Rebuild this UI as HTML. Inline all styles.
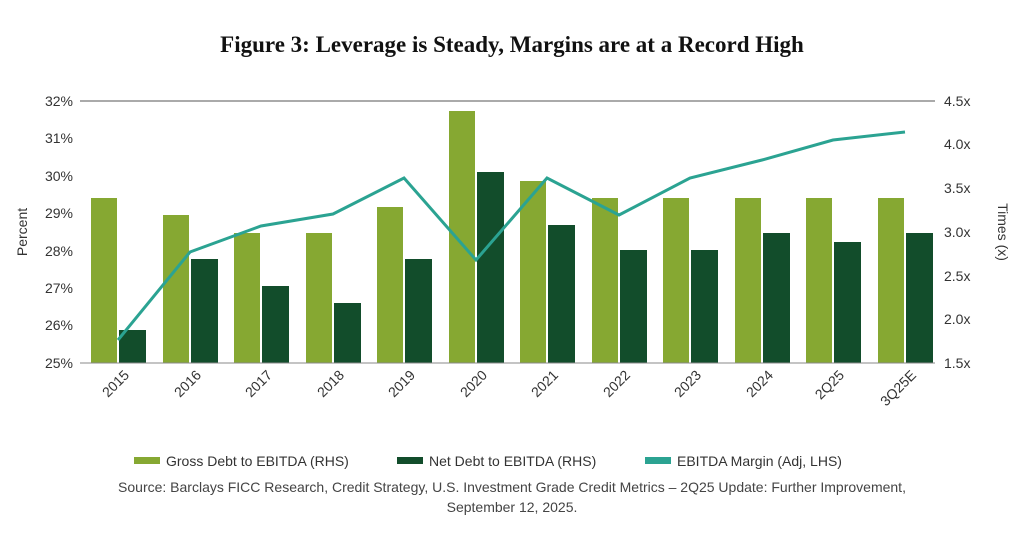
<!DOCTYPE html>
<html><head><meta charset="utf-8"><style>
body{margin:0;background:#fff;width:1024px;height:540px;overflow:hidden}
</style></head><body>
<svg width="1024" height="540" xmlns="http://www.w3.org/2000/svg" font-family="Liberation Sans, sans-serif">
<text x="512" y="52" text-anchor="middle" font-family="Liberation Serif, serif" font-weight="bold" font-size="23" fill="#111">Figure 3: Leverage is Steady, Margins are at a Record High</text>
<line x1="80" y1="101" x2="935" y2="101" stroke="#555" stroke-width="1"/>
<g font-size="14" fill="#333" text-anchor="end">
<text x="73" y="106">32%</text><text x="73" y="143">31%</text><text x="73" y="181">30%</text><text x="73" y="218">29%</text><text x="73" y="256">28%</text><text x="73" y="293">27%</text><text x="73" y="330">26%</text><text x="73" y="368">25%</text>
</g>
<g font-size="14" fill="#333">
<text x="944" y="106">4.5x</text><text x="944" y="149">4.0x</text><text x="944" y="193">3.5x</text><text x="944" y="237">3.0x</text><text x="944" y="281">2.5x</text><text x="944" y="324">2.0x</text><text x="944" y="368">1.5x</text>
</g>
<text transform="translate(27,232) rotate(-90)" text-anchor="middle" font-size="14" fill="#333">Percent</text>
<text transform="translate(998,232) rotate(90)" text-anchor="middle" font-size="14" fill="#333">Times (x)</text>
<g fill="#86a832">
<rect x="91" y="198" width="26" height="165"/><rect x="163" y="215" width="26" height="148"/><rect x="234" y="233" width="26" height="130"/><rect x="306" y="233" width="26" height="130"/><rect x="377" y="207" width="26" height="156"/><rect x="449" y="111" width="26" height="252"/><rect x="520" y="181" width="26" height="182"/><rect x="592" y="198" width="26" height="165"/><rect x="663" y="198" width="26" height="165"/><rect x="735" y="198" width="26" height="165"/><rect x="806" y="198" width="26" height="165"/><rect x="878" y="198" width="26" height="165"/>
</g>
<g fill="#124d2b">
<rect x="119" y="330" width="27" height="33"/><rect x="191" y="259" width="27" height="104"/><rect x="262" y="286" width="27" height="77"/><rect x="334" y="303" width="27" height="60"/><rect x="405" y="259" width="27" height="104"/><rect x="477" y="172" width="27" height="191"/><rect x="548" y="225" width="27" height="138"/><rect x="620" y="250" width="27" height="113"/><rect x="691" y="250" width="27" height="113"/><rect x="763" y="233" width="27" height="130"/><rect x="834" y="242" width="27" height="121"/><rect x="906" y="233" width="27" height="130"/>
</g>
<line x1="80" y1="363" x2="935" y2="363" stroke="#888" stroke-width="1"/>
<polyline fill="none" stroke="#2ba392" stroke-width="3" points="118,340 190,252 261,226 333,214 404,178 476,260 547,178 619,215 690,178 762,160 833,140 905,132"/>
<g font-size="14" fill="#333" text-anchor="end">
<text transform="translate(130,376) rotate(-45)">2015</text><text transform="translate(202,376) rotate(-45)">2016</text><text transform="translate(273,376) rotate(-45)">2017</text><text transform="translate(345,376) rotate(-45)">2018</text><text transform="translate(416,376) rotate(-45)">2019</text><text transform="translate(488,376) rotate(-45)">2020</text><text transform="translate(559,376) rotate(-45)">2021</text><text transform="translate(631,376) rotate(-45)">2022</text><text transform="translate(702,376) rotate(-45)">2023</text><text transform="translate(774,376) rotate(-45)">2024</text><text transform="translate(845,376) rotate(-45)">2Q25</text><text transform="translate(917,376) rotate(-45)">3Q25E</text>
</g>
<g font-size="14" fill="#333">
<rect x="134" y="457" width="26" height="7" fill="#86a832"/><text x="166" y="466">Gross Debt to EBITDA (RHS)</text>
<rect x="397" y="457" width="26" height="7" fill="#124d2b"/><text x="429" y="466">Net Debt to EBITDA (RHS)</text>
<rect x="645" y="457" width="26" height="7" fill="#2ba392"/><text x="677" y="466">EBITDA Margin (Adj, LHS)</text>
</g>
<g font-size="14" fill="#444" text-anchor="middle">
<text x="512" y="492">Source: Barclays FICC Research, Credit Strategy, U.S. Investment Grade Credit Metrics – 2Q25 Update: Further Improvement,</text>
<text x="512" y="512">September 12, 2025.</text>
</g>
</svg>
</body></html>
